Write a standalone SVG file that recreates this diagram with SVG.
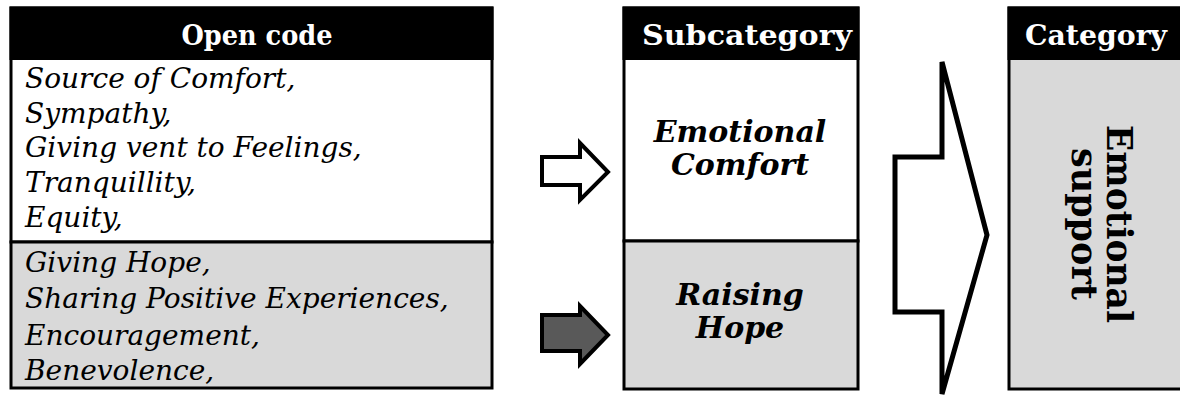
<svg xmlns="http://www.w3.org/2000/svg" width="1180" height="405" viewBox="0 0 1180 405">
  <style>
    .hdr { fill: #000000; }
    .body-white { fill: #ffffff; stroke: #000000; stroke-width: 3; }
    .body-grey { fill: #d9d9d9; stroke: #000000; stroke-width: 3; }
    .hdr-text { font-family: "DejaVu Serif", "Liberation Serif", serif; font-weight: bold; fill: #ffffff; font-size: 28px; text-anchor: middle; }
    .code { font-family: "DejaVu Serif", "Liberation Serif", serif; font-style: italic; fill: #000000; font-size: 28px; }
    .sub { font-family: "DejaVu Serif", "Liberation Serif", serif; font-style: italic; font-weight: bold; fill: #000000; font-size: 30px; text-anchor: middle; }
    .cat { font-family: "DejaVu Serif", "Liberation Serif", serif; font-weight: bold; fill: #000000; font-size: 35px; text-anchor: middle; }
    .arrow { stroke: #000000; stroke-width: 4; stroke-linejoin: miter; }
    .arrow-big { stroke: #000000; stroke-width: 5; stroke-linejoin: miter; fill: #ffffff; }
  </style>

  <!-- Open code column -->
  <g id="open-code">
    <rect class="body-white" x="11" y="8" width="481" height="234"/>
    <rect class="body-grey" x="11" y="242" width="481" height="146"/>
    <rect class="hdr" x="9.5" y="6.5" width="484" height="53.5"/>
    <text class="hdr-text" x="257" y="45" textLength="151" lengthAdjust="spacingAndGlyphs">Open code</text>
    <text class="code" x="25" y="88">Source of Comfort,</text>
    <text class="code" x="25" y="123">Sympathy,</text>
    <text class="code" x="25" y="157">Giving vent to Feelings,</text>
    <text class="code" x="25" y="192">Tranquillity,</text>
    <text class="code" x="25" y="227">Equity,</text>
    <text class="code" x="25" y="272">Giving Hope,</text>
    <text class="code" x="25" y="308">Sharing Positive Experiences,</text>
    <text class="code" x="25" y="345">Encouragement,</text>
    <text class="code" x="25" y="380">Benevolence,</text>
  </g>

  <!-- Subcategory column -->
  <g id="subcategory">
    <rect class="body-white" x="624" y="8" width="234" height="233"/>
    <rect class="body-grey" x="624" y="241" width="234" height="148"/>
    <rect class="hdr" x="622.5" y="6.5" width="237" height="53.5"/>
    <text class="hdr-text" x="747" y="45" textLength="210" lengthAdjust="spacingAndGlyphs">Subcategory</text>
    <text class="sub" x="740" y="142">Emotional</text>
    <text class="sub" x="740" y="175">Comfort</text>
    <text class="sub" x="740" y="305">Raising</text>
    <text class="sub" x="740" y="338">Hope</text>
  </g>

  <!-- Category column (runs past the right edge) -->
  <g id="category">
    <rect class="body-grey" x="1009" y="8" width="190" height="381"/>
    <rect class="hdr" x="1007.5" y="6.5" width="193" height="53.5"/>
    <text class="hdr-text" x="1096" y="45" textLength="142" lengthAdjust="spacingAndGlyphs">Category</text>
    <g transform="translate(1096 224) rotate(90)">
      <text class="cat" x="0" y="-11" textLength="198" lengthAdjust="spacingAndGlyphs">Emotional</text>
      <text class="cat" x="0" y="24" textLength="152" lengthAdjust="spacingAndGlyphs">support</text>
    </g>
  </g>

  <!-- Connectors -->
  <g id="connectors">
    <polygon class="arrow" fill="#ffffff" points="542,157 580,157 580,143 608,172 580,200 580,185 542,185"/>
    <polygon class="arrow" fill="#595959" points="542,315 580,315 580,306 608,335 580,364 580,351 542,351"/>
    <polygon class="arrow-big" points="895,157 942,157 942,62 987,235 942,394 942,312 895,312"/>
  </g>
</svg>
